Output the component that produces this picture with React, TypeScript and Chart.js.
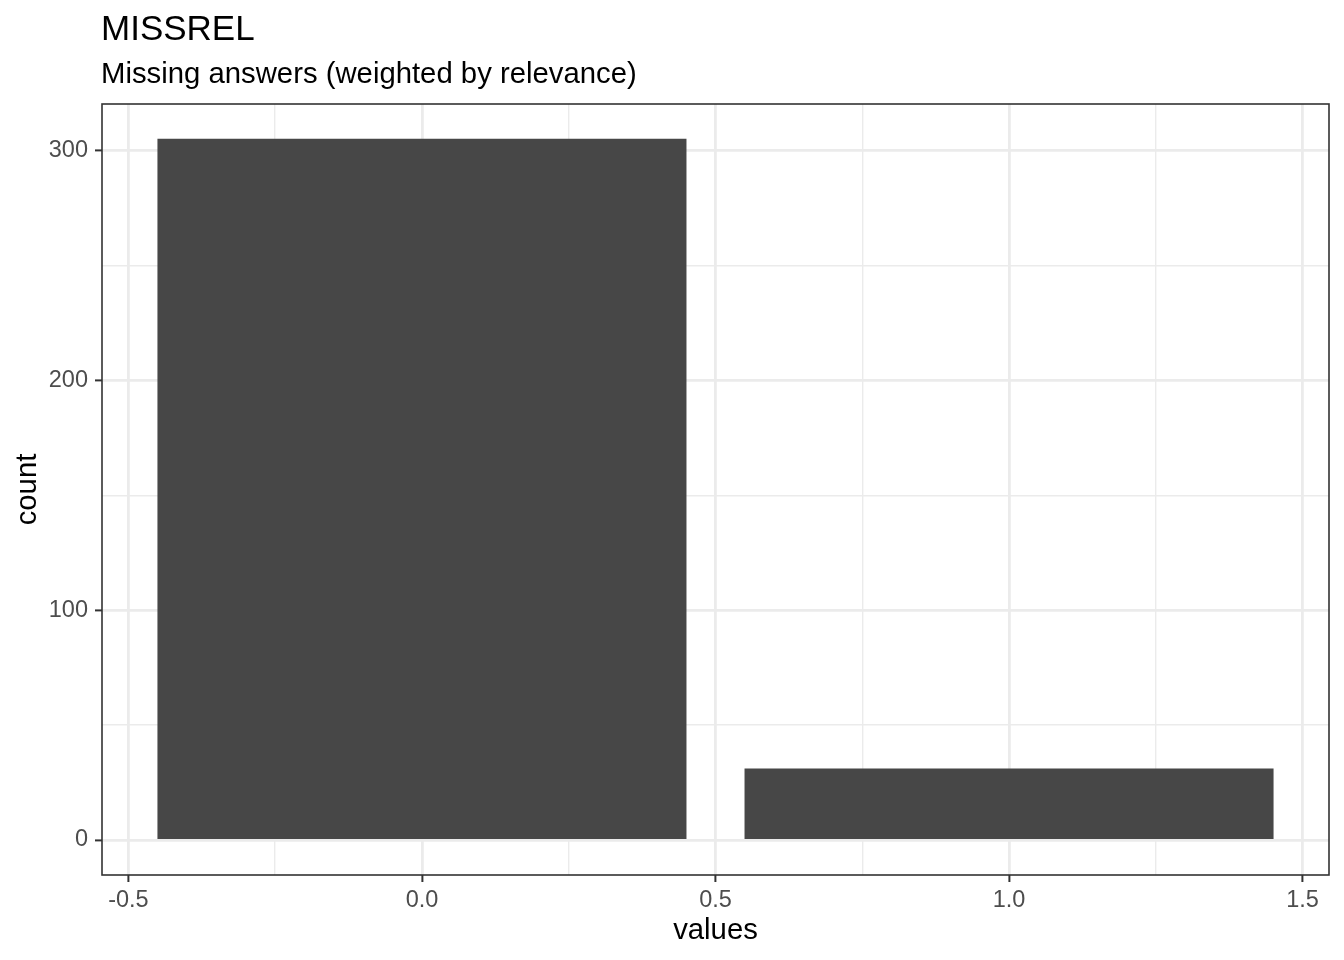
import { useEffect, useRef } from 'react';
import { Chart, registerables } from 'chart.js';

Chart.register(...registerables);

// data
const values = [0, 1];
const counts = [305, 31];
const barWidth = 0.9; // in x units, like geom_bar's default

// tick positions (major + minor) and which of them get a label
const xTicks = [-0.5, -0.25, 0, 0.25, 0.5, 0.75, 1, 1.25, 1.5];
const xLabels = [-0.5, 0, 0.5, 1, 1.5];
const yTicks = [0, 50, 100, 150, 200, 250, 300];
const yLabels = [0, 100, 200, 300];

const title = 'MISSREL';
const subtitle = 'Missing answers (weighted by relevance)';
const xTitle = 'values';
const yTitle = 'count';

const FONT = '"Liberation Sans", Arial, Helvetica, sans-serif';

// bar thickness follows the x scale so the bars span barWidth units
const barSizer = {
  id: 'barSizer',
  afterLayout(chart: Chart) {
    const x = chart.scales.x;
    if (!x) return;
    const w = Math.abs(x.getPixelForValue(barWidth / 2) - x.getPixelForValue(-barWidth / 2));
    chart.data.datasets.forEach((d: any) => {
      d.barThickness = w;
    });
  },
};

// panel border + titles, drawn on top like ggplot's theme_bw
const decorations = {
  id: 'decorations',
  afterDraw(chart: Chart) {
    const { ctx, chartArea: a } = chart;
    ctx.save();
    ctx.strokeStyle = '#333333';
    ctx.lineWidth = 1.6;
    ctx.strokeRect(a.left, a.top, a.right - a.left, a.bottom - a.top);

    ctx.fillStyle = '#000000';
    ctx.textBaseline = 'alphabetic';
    ctx.textAlign = 'left';
    ctx.font = `35px ${FONT}`;
    ctx.fillText(title, 101, 40);
    ctx.font = `29.3px ${FONT}`;
    ctx.fillText(subtitle, 101, 83);

    ctx.textAlign = 'center';
    ctx.fillText(xTitle, (a.left + a.right) / 2, 939);

    ctx.translate(36, (a.top + a.bottom) / 2);
    ctx.rotate(-Math.PI / 2);
    ctx.fillText(yTitle, 0, 0);
    ctx.restore();
  },
};

export default function App() {
  const canvasRef = useRef<HTMLCanvasElement>(null);

  useEffect(() => {
    if (!canvasRef.current) return;

    const isMajorX = (v: number) => xLabels.includes(v);
    const isMajorY = (v: number) => yLabels.includes(v);

    const chart = new Chart(canvasRef.current, {
      type: 'bar',
      data: {
        datasets: [{
          label: 'count',
          data: values.map((v, i) => ({ x: v, y: counts[i] })),
          backgroundColor: '#474747',
          borderWidth: 0,
          barPercentage: 1,
          categoryPercentage: 1,
        }],
      },
      options: {
        responsive: false,
        animation: false,
        devicePixelRatio: 1,
        layout: { padding: { top: 104, right: 15, left: 0, bottom: 0 } },
        plugins: {
          legend: { display: false },
          tooltip: { enabled: false },
        },
        scales: {
          x: {
            type: 'linear',
            min: -0.545,
            max: 1.545,
            offset: false,
            afterBuildTicks: (scale: any) => {
              scale.ticks = xTicks.map(v => ({ value: v }));
            },
            afterFit: (scale: any) => {
              scale.height = 85;
            },
            border: { display: false },
            grid: {
              offset: false,
              color: '#EBEBEB',
              lineWidth: (c: any) => (isMajorX(c.tick.value) ? 2.8 : 1.4),
              tickColor: (c: any) => (isMajorX(c.tick.value) ? '#333333' : 'rgba(0,0,0,0)'),
              tickWidth: 2,
              tickLength: 7,
            },
            ticks: {
              autoSkip: false,
              maxRotation: 0,
              minRotation: 0,
              padding: 4,
              color: '#4D4D4D',
              font: { family: FONT, size: 23.5 },
              callback: (v: any) => (isMajorX(Number(v)) ? Number(v).toFixed(1) : ''),
            },
          },
          y: {
            type: 'linear',
            min: -15.25,
            max: 320.25,
            afterBuildTicks: (scale: any) => {
              scale.ticks = yTicks.map(v => ({ value: v }));
            },
            afterFit: (scale: any) => {
              scale.width = 102;
            },
            border: { display: false },
            grid: {
              color: '#EBEBEB',
              lineWidth: (c: any) => (isMajorY(c.tick.value) ? 2.8 : 1.4),
              tickColor: (c: any) => (isMajorY(c.tick.value) ? '#333333' : 'rgba(0,0,0,0)'),
              tickWidth: 2,
              tickLength: 7,
            },
            ticks: {
              autoSkip: false,
              padding: 7,
              color: '#4D4D4D',
              font: { family: FONT, size: 23.5 },
              callback: (v: any) => (isMajorY(Number(v)) ? String(v) : ''),
            },
          },
        },
      },
      plugins: [barSizer, decorations],
    });

    return () => chart.destroy();
  }, []);

  return (
    <div style={{ position: 'absolute', left: 0, top: 0, width: 1344, height: 960, background: '#FFFFFF' }}>
      <canvas ref={canvasRef} width={1344} height={960} />
    </div>
  );
}
